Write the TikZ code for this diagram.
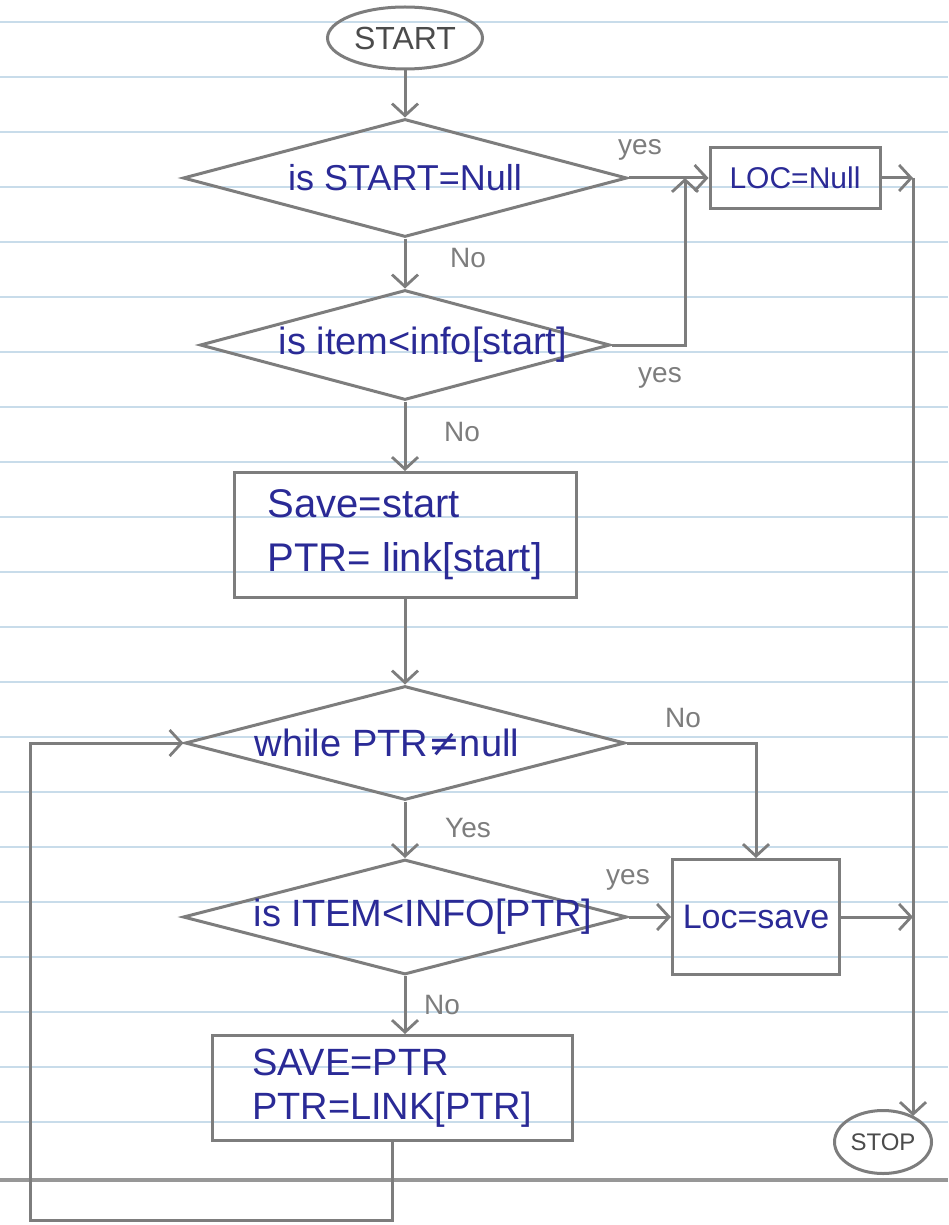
\documentclass[tikz,border=0pt]{standalone}
\usepackage{fontspec}
\setmainfont{Liberation Sans}
\newfontfamily\symfont{DejaVu Sans}
\usetikzlibrary{shapes.geometric,arrows.meta}
\definecolor{pencil}{RGB}{125,125,125}
\definecolor{ink}{RGB}{42,42,150}
\definecolor{rule}{RGB}{200,220,234}
\newcommand\hsz[1]{\fontsize{#1}{#1}\selectfont}
\begin{document}
\begin{tikzpicture}[x=1pt,y=-1pt,
  flow/.style={draw=pencil, line width=3pt},
  arr/.style={flow, -{Straight Barb[length=12pt,width=26pt,line width=2.8pt]}},
  dia/.style={flow, diamond, inner sep=0pt, shape aspect=3.8},
  boxnode/.style={flow, rectangle, inner sep=0pt, align=left, text=ink},
  term/.style={flow, ellipse, inner sep=0pt, text=pencil!60!black},
  inktxt/.style={text=ink},
  lbl/.style={text=pencil, font=\hsz{28}}]

% paper
\useasboundingbox (0,0) rectangle (948,1225);
\fill[white] (0,0) rectangle (948,1225);
\foreach \k in {0,...,20}
  \draw[rule, line width=1.4pt] (0,{22+55*\k}) -- (948,{22+55*\k});
\draw[pencil!80, line width=3.5pt] (0,1180) -- (948,1180);

% terminals
\node[term, minimum width=155, minimum height=62, font=\hsz{32}] (start) at (405,38) {START};
\node[term, minimum width=97, minimum height=63, font=\hsz{24}] (stop) at (883,1142) {STOP};

% decisions
\node[dia, minimum width=444, minimum height=118,
  label={[inktxt, font=\hsz{36}]center:is START=Null}] (d1) at (405,178) {};
\node[dia, minimum width=410, minimum height=110,
  label={[inktxt, font=\hsz{38}, xshift=18pt]center:is item<info[start]}] (d2) at (405,345) {};
\node[dia, minimum width=440, minimum height=114,
  label={[inktxt, font=\hsz{38}, xshift=-18pt]center:while PTR{\symfont ≠}null}] (d3) at (405,743) {};
\node[dia, minimum width=444, minimum height=115,
  label={[inktxt, font=\hsz{38}, xshift=18pt]center:is ITEM<INFO[PTR]}] (d4) at (405,917) {};

% processes
\node[boxnode, minimum width=170, minimum height=60, font=\hsz{30}] (locnull) at (795,178) {LOC=Null};
\node[boxnode, minimum width=342, minimum height=125, font=\hsz{40}] (box2) at (405,535)
  {\rule{0pt}{18pt}Save=start\\[14pt]PTR= link[start]};
\node[boxnode, minimum width=167, minimum height=115, font=\hsz{34}] (locsave) at (756,917) {Loc=save};
\node[boxnode, minimum width=360, minimum height=105, font=\hsz{38}] (box3) at (392,1088)
  {SAVE=PTR\\[6pt]PTR=LINK[PTR]};

% junction points
\coordinate (j1) at (685,178);
\coordinate (c1) at (913,178);
\coordinate (c2) at (913,917);
\coordinate (stopin) at (913,1116);
\coordinate (loopL) at (30,1220);

% connectors
\draw[arr] (start.south) -- (d1.north);
\draw[arr] (d1.east) -- (locnull.west);
\draw[arr] (d1.south) -- (d2.north);
\draw[arr] (d2.east) -| (j1);
\draw[arr] (d2.south) -- (box2.north);
\draw[arr] (box2.south) -- (d3.north);
\draw[arr] (d3.east) -| (locsave.north);
\draw[arr] (d3.south) -- (d4.north);
\draw[arr] (d4.east) -- (locsave.west);
\draw[arr] (d4.south) -- (d4.south |- box3.north);
\draw[arr] (box3.south) |- (loopL) |- (d3.west);
\draw[arr] (locnull.east) -- (c1);
\draw[arr] (c1) -- (stopin);
\draw[arr] (locsave.east) -- (c2);

% branch labels
\node[lbl] (y1) at (640,150) {yes};
\node[lbl] (n1) at (468,258) {No};
\node[lbl] (y2) at (660,378) {yes};
\node[lbl] (n2) at (462,432) {No};
\node[lbl] (n3) at (683,718) {No};
\node[lbl] (y3) at (468,828) {Yes};
\node[lbl] (y4) at (628,880) {yes};
\node[lbl] (n4) at (442,1005) {No};
\end{tikzpicture}
\end{document}
